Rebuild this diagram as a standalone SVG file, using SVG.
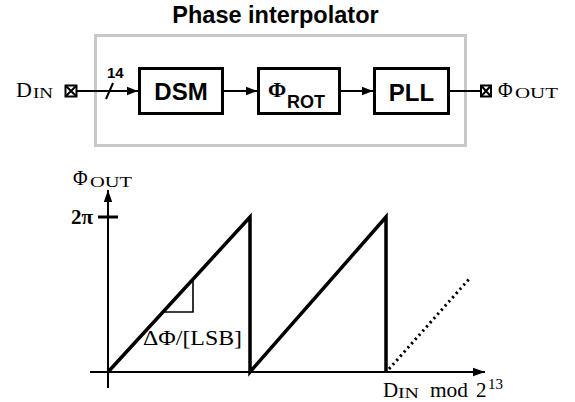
<svg xmlns="http://www.w3.org/2000/svg" width="575" height="402" viewBox="0 0 575 402">
<style>
.sans{font-family:"Liberation Sans",Arial,sans-serif;font-weight:bold;fill:#000}
.serif{font-family:"Liberation Serif","Times New Roman",serif;fill:#000}
.blk{fill:#fff;stroke:#000;stroke-width:3}
.wire{fill:none;stroke:#000;stroke-width:2}
.pad{fill:#fff;stroke:#000;stroke-width:2}
.curve{fill:none;stroke:#000;stroke-width:3.5;stroke-linejoin:miter}
</style>
<defs>
<marker id="arr" markerUnits="userSpaceOnUse" markerWidth="12" markerHeight="10" refX="11" refY="5" orient="auto">
<path d="M0,0.8 L11,5 L0,9.2 z" fill="#000"/>
</marker>
<marker id="ax" markerUnits="userSpaceOnUse" markerWidth="13" markerHeight="10" refX="12" refY="5" orient="auto">
<path d="M0,0.8 L12,5 L0,9.2 z" fill="#000"/>
</marker>
</defs>
<rect width="575" height="402" fill="#fff"/>

<g id="phase-interpolator">
<rect x="95.5" y="35.5" width="370" height="110" fill="none" stroke="#c8c8c8" stroke-width="3"/>
<text class="sans" x="275.5" y="23" font-size="23.5" text-anchor="middle">Phase interpolator</text>
</g>

<g id="connectors">
<line class="wire" x1="77" y1="91" x2="138" y2="91" marker-end="url(#arr)"/>
<line class="wire" x1="106" y1="99" x2="113" y2="83"/>
<text class="sans" x="107" y="78" font-size="15">14</text>
<line class="wire" x1="224" y1="91" x2="257" y2="91" marker-end="url(#arr)"/>
<line class="wire" x1="341" y1="91" x2="373" y2="91" marker-end="url(#arr)"/>
<line class="wire" x1="450" y1="91" x2="482" y2="91"/>
</g>

<g id="din">
<text class="serif" x="16" y="97" font-size="22">D</text>
<text class="serif" x="33" y="98" font-size="15" textLength="20" lengthAdjust="spacingAndGlyphs">IN</text>
<rect class="pad" x="65.5" y="85.5" width="11" height="11"/>
<path class="pad" d="M65.5,85.5 L76.5,96.5 M76.5,85.5 L65.5,96.5"/>
</g>

<g id="dsm">
<rect class="blk" x="139.5" y="68.5" width="83" height="45"/>
<text class="sans" x="181" y="100" font-size="24" text-anchor="middle">DSM</text>
</g>

<g id="phirot">
<rect class="blk" x="258.5" y="68.5" width="81" height="45"/>
<text class="serif" x="268" y="97" font-size="22" font-weight="bold">Φ</text>
<text class="sans" x="287" y="108" font-size="18">ROT</text>
</g>

<g id="pll">
<rect class="blk" x="374.5" y="68.5" width="74" height="45"/>
<text class="sans" x="411.5" y="101" font-size="24" text-anchor="middle">PLL</text>
</g>

<g id="phiout">
<rect class="pad" x="481" y="85.5" width="10" height="11"/>
<path class="pad" d="M481,85.5 L491,96.5 M491,85.5 L481,96.5"/>
<text class="serif" x="498" y="97" font-size="20">Φ</text>
<text class="serif" x="515" y="98" font-size="15" textLength="43" lengthAdjust="spacingAndGlyphs">OUT</text>
</g>

<g id="plot">
<line class="wire" x1="108" y1="388" x2="108" y2="190" marker-end="url(#ax)"/>
<line class="wire" x1="90" y1="372" x2="485" y2="372" marker-end="url(#ax)"/>
<line x1="98" y1="217" x2="118" y2="217" stroke="#000" stroke-width="3"/>
<text class="serif" x="93" y="224" font-size="21" font-weight="bold" text-anchor="end">2π</text>
<text class="serif" x="73" y="185" font-size="20">Φ</text>
<text class="serif" x="90" y="187" font-size="15" textLength="42" lengthAdjust="spacingAndGlyphs">OUT</text>
<polyline class="curve" points="108,372 250,217 250,372 386,217 386,372"/>
<line x1="389" y1="369" x2="470" y2="278" stroke="#000" stroke-width="3" stroke-dasharray="2.2 3.4"/>
<polyline points="164,312 193,312 193,280" fill="none" stroke="#000" stroke-width="1.6"/>
<text class="serif" x="143" y="345" font-size="21" textLength="99" lengthAdjust="spacingAndGlyphs">ΔΦ/[LSB]</text>
<text class="serif" x="383" y="397" font-size="21">D</text>
<text class="serif" x="398" y="398" font-size="14" textLength="21" lengthAdjust="spacingAndGlyphs">IN</text>
<text class="serif" x="430" y="397" font-size="21" textLength="38" lengthAdjust="spacingAndGlyphs">mod</text>
<text class="serif" x="476" y="397" font-size="21">2</text>
<text class="serif" x="488" y="389" font-size="15">13</text>
</g>
</svg>
